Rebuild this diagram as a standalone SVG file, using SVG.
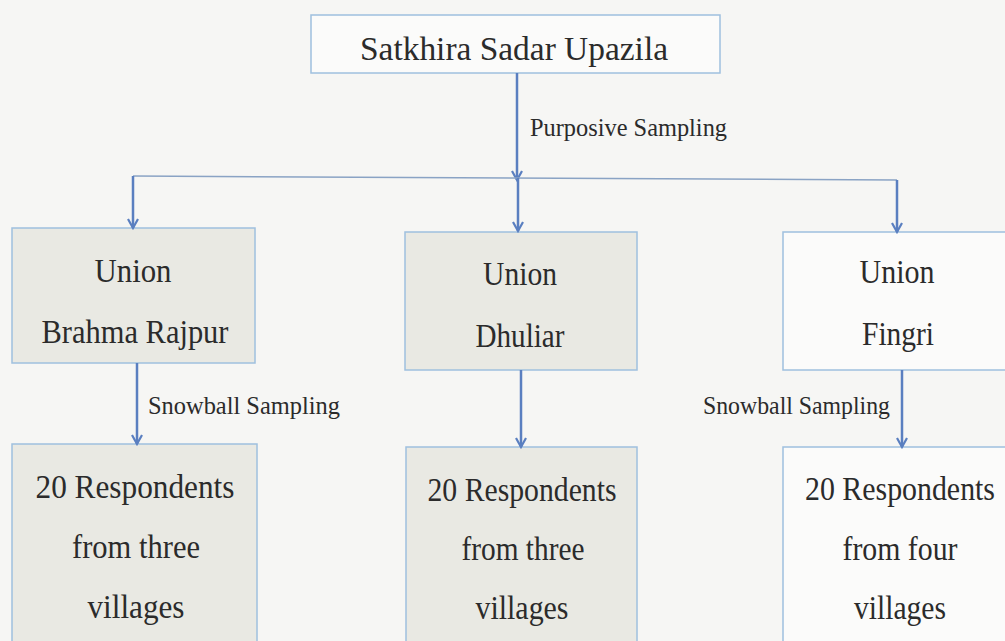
<svg xmlns="http://www.w3.org/2000/svg" width="1005" height="641" viewBox="0 0 1005 641">
<defs>
<marker id="ah" markerWidth="12" markerHeight="12" refX="10" refY="6" orient="auto" markerUnits="userSpaceOnUse" viewBox="0 0 12 12">
<path d="M1,1 L10,6 L1,11" fill="none" stroke="#5a7fc0" stroke-width="2.2"/>
</marker>
<style>
.box{stroke:#9fc0de;stroke-width:1.5}
.grey{fill:#e9e9e3}
.white{fill:#fbfbfa}
.t{fill:#2b2b2b;text-anchor:middle;font-size:33px}
.lbl{fill:#2b2b2b;font-size:26px}
.c{stroke:#5a7fc0;stroke-width:2.5;fill:none}
.h{stroke:#8aa3c4;stroke-width:1.5;fill:none}
</style>
</defs>
<rect width="1005" height="641" fill="#f6f6f4"/>
<g font-family="Liberation Serif, Times New Roman, DejaVu Serif, serif">
<g id="top">
<rect class="box white" x="311" y="15" width="409" height="58"/>
<text class="t" x="514" y="60" font-size="34" textLength="308" lengthAdjust="spacingAndGlyphs">Satkhira Sadar Upazila</text>
</g>
<g id="brahma">
<rect class="box grey" x="12" y="228" width="243" height="135"/>
<text class="t" x="133" y="282" textLength="77" lengthAdjust="spacingAndGlyphs">Union</text>
<text class="t" x="135" y="343" textLength="187" lengthAdjust="spacingAndGlyphs">Brahma Rajpur</text>
</g>
<g id="dhuliar">
<rect class="box grey" x="405" y="232" width="232" height="138"/>
<text class="t" x="520" y="285" textLength="74" lengthAdjust="spacingAndGlyphs">Union</text>
<text class="t" x="520" y="347" textLength="89" lengthAdjust="spacingAndGlyphs">Dhuliar</text>
</g>
<g id="fingri">
<rect class="box white" x="783" y="232" width="230" height="138"/>
<text class="t" x="897" y="283" textLength="75" lengthAdjust="spacingAndGlyphs">Union</text>
<text class="t" x="898" y="345" textLength="72" lengthAdjust="spacingAndGlyphs">Fingri</text>
</g>
<g id="resp1">
<rect class="box grey" x="12" y="444" width="245" height="205"/>
<text class="t" x="135" y="498" textLength="199" lengthAdjust="spacingAndGlyphs">20 Respondents</text>
<text class="t" x="136" y="558" textLength="128" lengthAdjust="spacingAndGlyphs">from three</text>
<text class="t" x="136" y="618" textLength="97" lengthAdjust="spacingAndGlyphs">villages</text>
</g>
<g id="resp2">
<rect class="box grey" x="406" y="447" width="231" height="205"/>
<text class="t" x="522" y="501" textLength="189" lengthAdjust="spacingAndGlyphs">20 Respondents</text>
<text class="t" x="523" y="560" textLength="123" lengthAdjust="spacingAndGlyphs">from three</text>
<text class="t" x="522" y="619" textLength="93" lengthAdjust="spacingAndGlyphs">villages</text>
</g>
<g id="resp3">
<rect class="box white" x="783" y="447" width="230" height="205"/>
<text class="t" x="900" y="500" textLength="190" lengthAdjust="spacingAndGlyphs">20 Respondents</text>
<text class="t" x="900" y="560" textLength="115" lengthAdjust="spacingAndGlyphs">from four</text>
<text class="t" x="900" y="619" textLength="92" lengthAdjust="spacingAndGlyphs">villages</text>
</g>
<g id="connectors">
<line class="c" x1="517" y1="73" x2="517" y2="180" marker-end="url(#ah)"/>
<line class="h" x1="133" y1="176" x2="897" y2="180"/>
<line class="c" x1="518" y1="178" x2="518" y2="231" marker-end="url(#ah)"/>
<line class="c" x1="133" y1="176" x2="133" y2="228" marker-end="url(#ah)"/>
<line class="c" x1="897" y1="180" x2="897" y2="232" marker-end="url(#ah)"/>
<line class="c" x1="137" y1="363" x2="137" y2="444" marker-end="url(#ah)"/>
<line class="c" x1="521" y1="370" x2="521" y2="447" marker-end="url(#ah)"/>
<line class="c" x1="902" y1="370" x2="902" y2="447" marker-end="url(#ah)"/>
<text class="lbl" x="530" y="136" textLength="197" lengthAdjust="spacingAndGlyphs">Purposive Sampling</text>
<text class="lbl" x="148" y="414" textLength="192" lengthAdjust="spacingAndGlyphs">Snowball Sampling</text>
<text class="lbl" x="703" y="414" textLength="187" lengthAdjust="spacingAndGlyphs">Snowball Sampling</text>
</g>
</g>
</svg>
